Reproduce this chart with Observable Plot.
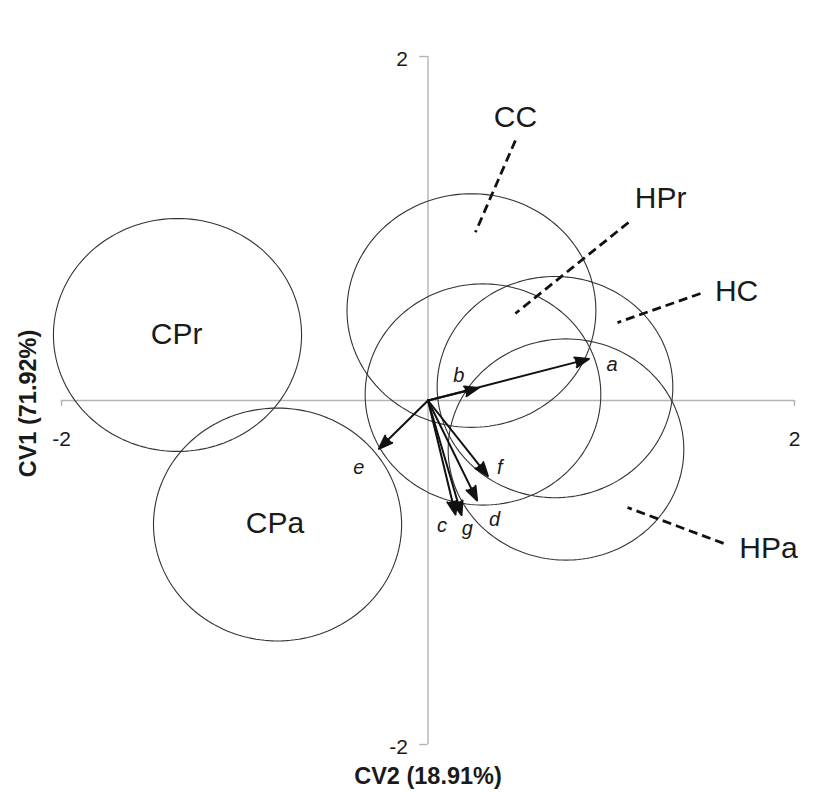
<!DOCTYPE html>
<html>
<head>
<meta charset="utf-8">
<script src="https://cdn.jsdelivr.net/npm/d3@7"></script>
<script src="https://cdn.jsdelivr.net/npm/@observablehq/plot@0.6"></script>
<style>
  html, body { margin: 0; padding: 0; background: #fff; }
  svg { display: block; }
</style>
</head>
<body>
<div id="chart"></div>
<script>
// Group confidence circles (CV2 = x, CV1 = y)
const groups  = ["CPr", "CPa", "CC", "HPr", "HC", "HPa"];
const centerX = [-1.367, -0.821, 0.237, 0.300, 0.693, 0.753];
const centerY = [0.381, -0.721, 0.523, 0.035, 0.078, -0.285];
const radius  = [0.677, 0.677, 0.679, 0.643, 0.643, 0.643];

// Group label positions
const groupLabelX = [-1.372, -0.835, 0.477, 1.269, 1.684, 1.858];
const groupLabelY = [0.384, -0.715, 1.645, 1.174, 0.634, -0.860];

// Dashed leader lines (for CC, HPr, HC, HPa)
const leaderGroups = ["CC", "HPr", "HC", "HPa"];
const leaderX1 = [0.477, 1.094, 1.487, 1.613];
const leaderY1 = [1.512, 1.035, 0.622, -0.831];
const leaderX2 = [0.259, 0.477, 1.034, 1.089];
const leaderY2 = [0.978, 0.506, 0.453, -0.622];

// Variable vectors
const variables = ["a", "b", "c", "d", "e", "f", "g"];
const vecX = [0.878, 0.276, 0.150, 0.268, -0.268, 0.327, 0.183];
const vecY = [0.242, 0.073, -0.663, -0.581, -0.281, -0.439, -0.666];
const varLabelX = [1.005, 0.168, 0.077, 0.363, -0.378, 0.392, 0.214];
const varLabelY = [0.209, 0.145, -0.727, -0.694, -0.388, -0.388, -0.746];

// Axis ticks and titles
const xTicks = [-2, 2];
const yTicks = [-2, 2];
const xTitle = "CV2 (18.91%)";
const yTitle = "CV1 (71.92%)";

// Build tables
const circles = groups.map((g, i) => ({group: g, cx: centerX[i], cy: centerY[i], r: radius[i]}));
const circlePts = [];
for (const c of circles) {
  for (let k = 0; k <= 180; k++) {
    const t = (k / 180) * 2 * Math.PI;
    circlePts.push({group: c.group, x: c.cx + c.r * Math.cos(t), y: c.cy + c.r * Math.sin(t)});
  }
}
const groupLabels = groups.map((g, i) => ({text: g, x: groupLabelX[i], y: groupLabelY[i]}));
const leaders = leaderGroups.map((g, i) => ({group: g, x1: leaderX1[i], y1: leaderY1[i], x2: leaderX2[i], y2: leaderY2[i]}));
const vectors = variables.map((v, i) => ({v, x: vecX[i], y: vecY[i], lx: varLabelX[i], ly: varLabelY[i]}));

const font = "'Liberation Sans', Arial, Helvetica, sans-serif";
const axisColor = "#b4b4b4";
const ink = "#1a1a1a";

const chart = Plot.plot({
  width: 819,
  height: 792,
  marginLeft: 61,
  marginRight: 25,
  marginTop: 56,
  marginBottom: 48,
  x: {domain: [-2, 2], axis: null},
  y: {domain: [-2, 2], axis: null},
  style: {fontFamily: font, background: "#fff", color: ink},
  marks: [
    // axes lines through origin
    Plot.ruleY([0], {x1: xTicks[0], x2: xTicks[1], stroke: axisColor, strokeWidth: 1.4}),
    Plot.ruleX([0], {y1: yTicks[0], y2: yTicks[1], stroke: axisColor, strokeWidth: 1.4}),
    // end ticks
    Plot.ruleX(xTicks, {y1: 0, y2: -0.035, stroke: axisColor, strokeWidth: 1.4}),
    Plot.ruleY(yTicks, {x1: -0.045, x2: 0, stroke: axisColor, strokeWidth: 1.4}),
    // tick labels
    Plot.text(xTicks, {x: d => d, y: 0, dy: 39, text: d => String(d), fontSize: 21, fill: ink}),
    Plot.text(yTicks, {x: 0, y: d => d, dx: -20, dy: 3, text: d => String(d), textAnchor: "end", fontSize: 21, fill: ink}),
    // circles
    Plot.line(circlePts, {x: "x", y: "y", z: "group", stroke: "#333", strokeWidth: 1.1, curve: "linear"}),
    // leader lines
    Plot.link(leaders, {x1: "x1", y1: "y1", x2: "x2", y2: "y2", stroke: "#111", strokeWidth: 2.8, strokeDasharray: "9,5"}),
    // group labels
    Plot.text(groupLabels, {x: "x", y: "y", text: "text", fontSize: 30, fill: ink}),
    // vectors (filled heads)
    Plot.arrow(vectors, {x1: 0, y1: 0, x2: "x", y2: "y", stroke: "#111", fill: "#111", strokeWidth: 2, headLength: 11, headAngle: 40}),
    Plot.text(vectors, {x: "lx", y: "ly", text: "v", fontSize: 20, fontStyle: "italic", fill: ink}),
    // axis titles
    Plot.text([xTitle], {frameAnchor: "bottom", lineAnchor: "middle", textAnchor: "middle", dy: 32, fontSize: 23.5, fontWeight: "bold", fill: ink}),
    Plot.text([yTitle], {frameAnchor: "left", lineAnchor: "middle", textAnchor: "middle", dx: -33, dy: 3, rotate: -90, fontSize: 23.5, fontWeight: "bold", fill: ink})
  ]
});

document.getElementById("chart").appendChild(chart);
</script>
</body>
</html>
